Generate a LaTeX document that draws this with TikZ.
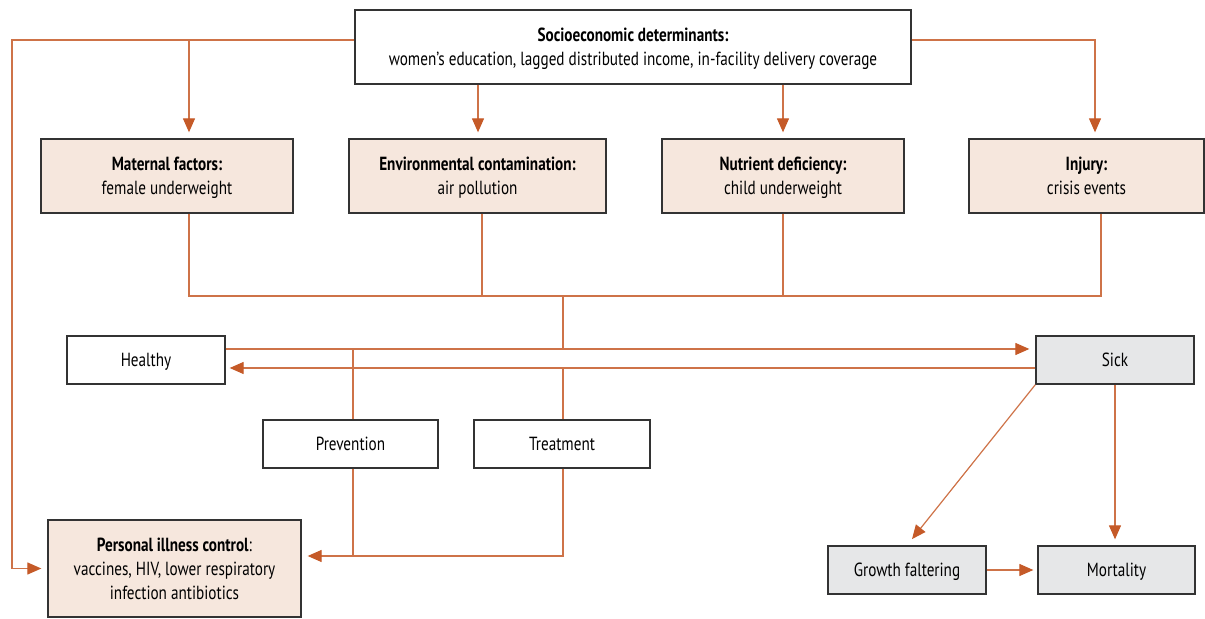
\documentclass[tikz,border=0pt]{standalone}
\usepackage{fontspec}
\setmainfont[FakeStretch=0.8]{PT Sans}
\usetikzlibrary{arrows.meta}
\definecolor{rust}{HTML}{C55A28}
\definecolor{peach}{HTML}{F6E7DD}
\definecolor{pale}{HTML}{E6E7E8}
\definecolor{edge}{HTML}{333333}
\tikzset{
  box/.style={draw=edge,line width=0.65pt,fill=white,align=center,
    minimum height=24pt,inner sep=2pt,text depth=0pt,font=\fontsize{9.5}{12}\selectfont},
  peachbox/.style={box,fill=peach,minimum height=37pt},
  greybox/.style={box,fill=pale},
  line/.style={draw=rust!85,line width=0.6pt},
  arr/.style={line,-{Triangle[length=7pt,width=6pt,color=rust]},shorten >=3pt}
}
\begin{document}
\begin{tikzpicture}[x=0.5pt,y=-0.5pt]
  \useasboundingbox (0,0) rectangle (1205,619);
  % boxes
  \node[box,minimum width=278pt,minimum height=37pt] (socio) at (633,47)
    {\textbf{Socioeconomic determinants:}\\women’s education, lagged distributed income, in-facility delivery coverage};
  \node[peachbox,minimum width=126pt] (mat) at (167,176)
    {\textbf{Maternal factors:}\\female underweight};
  \node[peachbox,minimum width=128.5pt] (env) at (477.5,176)
    {\textbf{Environmental contamination:}\\air pollution};
  \node[peachbox,minimum width=121pt] (nut) at (783,176)
    {\textbf{Nutrient deficiency:}\\child underweight};
  \node[peachbox,minimum width=117.5pt] (inj) at (1086.5,176)
    {\textbf{Injury:}\\crisis events};
  \node[box,minimum width=79pt] (healthy) at (146,360) {Healthy};
  \node[greybox,minimum width=79pt] (sick) at (1115,360) {Sick};
  \node[box,minimum width=87.5pt] (prev) at (350.5,444) {Prevention};
  \node[box,minimum width=88pt] (treat) at (562,444) {Treatment};
  \node[peachbox,minimum width=126.5pt,minimum height=48.5pt] (pers) at (174.5,568.5)
    {\textbf{Personal illness control}:\\vaccines, HIV, lower respiratory\\infection antibiotics};
  \node[greybox,minimum width=79pt] (grow) at (907,570) {Growth faltering};
  \node[greybox,minimum width=78.5pt] (mort) at (1116.5,570) {Mortality};

  % helper points
  \coordinate (lcorner) at (12,40);
  \coordinate (mtap) at (189,40);
  \coordinate (rtap) at (1095,40);
  \coordinate (busL) at (189,296);
  \coordinate (busR) at (1101,296);
  \coordinate (bus) at (563,296);
  \coordinate (etap) at (482,296);
  \coordinate (ptap) at (353,556);
  \coordinate (hup) at ([yshift=5.5pt]healthy.east);
  \coordinate (hlo) at ([yshift=-4pt]healthy.east);
  \coordinate (cjoin) at (563,556);

  % from the determinants
  \draw[arr] ([yshift=3.5pt]socio.west) -- (lcorner) |- (pers.west);
  \draw[arr] (mtap) -- (mtap |- mat.north);
  \draw[arr] ([xshift=0.25pt]env.north |- socio.south) -- ([xshift=0.25pt]env.north);
  \draw[arr] (nut.north |- socio.south) -- (nut.north);
  \draw[arr] ([yshift=3.5pt]socio.east) -- (rtap) -- (rtap |- inj.north);

  % joining bus
  \draw[line] (mat.south -| busL) -- (busL) -- (busR) -- (inj.south -| busR);
  \draw[line] (env.south -| etap) -- (etap);
  \draw[line] (nut.south) -- (nut.south |- bus);
  \draw[line] (bus) -- (bus |- hup);

  % healthy <-> sick
  \draw[arr] (hup) -- (hup -| sick.west);
  \draw[arr,shorten >=2pt] (hlo -| sick.west) -- (hlo);
  \draw[line] (ptap |- hup) -- (ptap |- prev.north);
  \draw[line] (cjoin |- hlo) -- (cjoin |- treat.north);

  % to personal illness control
  \draw[line] (ptap |- prev.south) -- (ptap);
  \draw[arr] (cjoin |- treat.south) -- (cjoin) -- (cjoin -| pers.east);

  % outcomes
  \draw[arr,shorten >=4pt] (sick.south west) -- (grow.north);
  \draw[arr] (sick.south) -- (sick.south |- mort.north);
  \draw[arr,shorten >=2pt] (grow.east) -- (mort.west);
\end{tikzpicture}
\end{document}
